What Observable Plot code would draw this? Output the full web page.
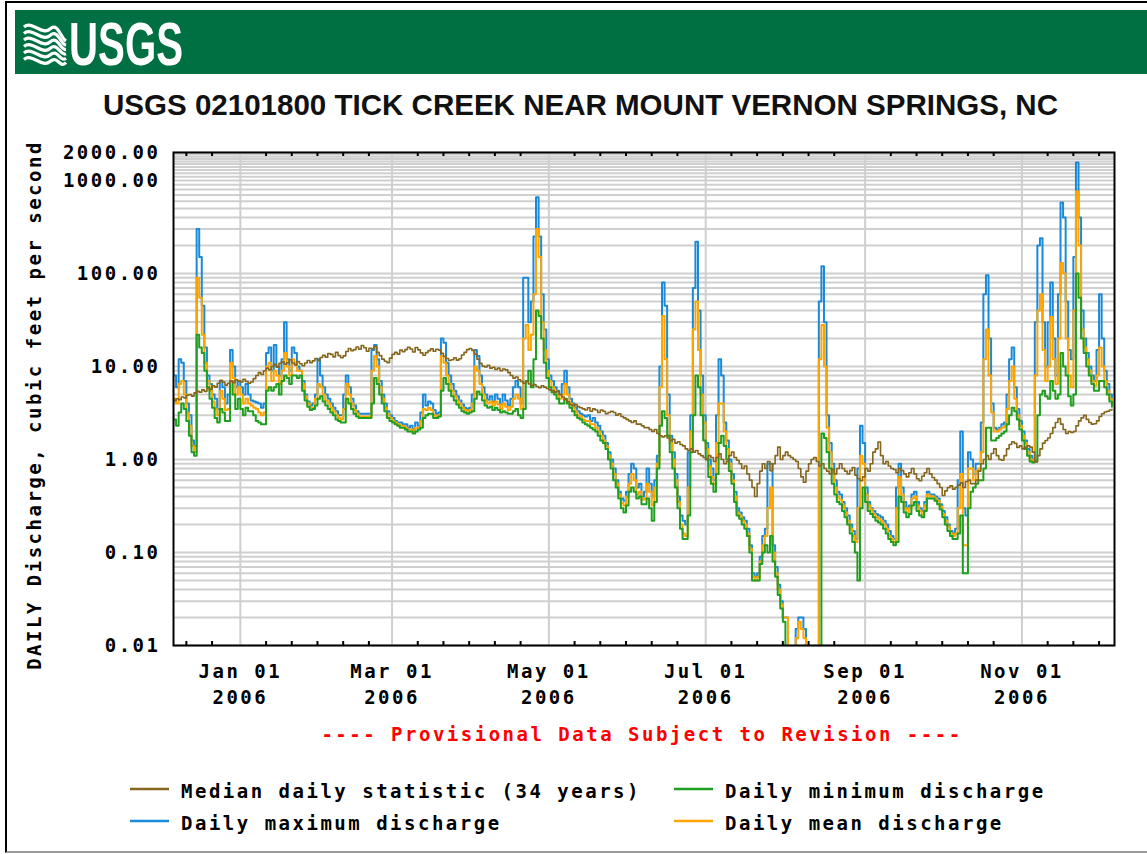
<!DOCTYPE html>
<html><head><meta charset="utf-8">
<script src="https://cdn.jsdelivr.net/npm/d3@7"></script>
<script src="https://cdn.jsdelivr.net/npm/@observablehq/plot@0.6"></script>
<style>
html,body{margin:0;padding:0;background:#fff;}
body{width:1147px;height:854px;position:relative;overflow:hidden;}
#frame{position:absolute;left:5px;top:1px;width:1160px;height:848px;border-left:2px solid #000;border-top:2px solid #000;border-bottom:2px solid #999;}
#chart{position:absolute;left:0;top:130px;width:1147px;}
#deco{position:absolute;left:0;top:0;z-index:2;}
.mono, #chart svg text{font-family:"DejaVu Sans Mono",monospace;font-weight:bold;font-size:19px;letter-spacing:2.5px;fill:#000;}
</style></head>
<body>
<div id="frame"></div>
<div id="chart"></div>
<svg id="deco" width="1147" height="854"></svg>
<script>
// ---------------- DATA ----------------
const stationTitle = "USGS 02101800 TICK CREEK NEAR MOUNT VERNON SPRINGS, NC";
const yAxisTitle = "DAILY Discharge, cubic feet per second";
const provisionalNote = "---- Provisional Data Subject to Revision ----";
const startDay = "2005-12-06";
const endDay = "2006-12-07";
const yTickValues = [0.01, 0.1, 1, 10, 100, 1000, 2000];
const monthTicks = ["2006-01-01", "2006-03-01", "2006-05-01", "2006-07-01", "2006-09-01", "2006-11-01"];
const seriesNames = ["Median daily statistic (34 years)", "Daily minimum discharge", "Daily maximum discharge", "Daily mean discharge"];
const seriesColors = ["#86661c", "#1f9e1f", "#1a8ad8", "#ffa500"];

// daily values from 2005-12-06 (0 = no flow)
const maxCfs = [
 8, 6, 12, 11, 7, 4, 3, 1.6, 1.4, 300,
 150, 45, 16, 8, 6.5, 5, 4.5, 3.5, 7, 6,
 4, 5, 15, 10, 6, 7, 6, 5, 6.5, 5,
 4.3, 4.2, 4.1, 4, 3.6, 4, 14, 16, 9, 17,
 10, 8, 12, 30, 12, 9, 16, 14, 10, 9,
 7, 5, 4.2, 3.8, 4, 5, 12, 8, 6, 5,
 4.5, 4, 3.6, 3.3, 3, 3, 5, 8, 6, 4.5,
 3.8, 3.3, 3.1, 3.1, 3.1, 3.1, 3.1, 15, 17, 12,
 7, 5, 4, 3.3, 3, 2.8, 2.6, 2.5, 2.5, 2.4,
 2.4, 2.2, 2.3, 2.1, 2.5, 2.3, 3.2, 5, 3.8, 4.2,
 4, 3.4, 3.1, 3.2, 20, 18, 11, 8, 6.5, 5.5,
 4.8, 4.3, 3.9, 3.6, 3.5, 3.6, 5, 15, 13, 8,
 6, 5, 4.4, 4.8, 4.2, 5, 4.5, 3.9, 5, 4.3,
 3.8, 4.5, 6, 7, 6, 4, 90, 90, 30, 50,
 250, 660, 250, 60, 25, 12, 8, 7, 6, 5.5,
 5, 6.5, 9, 6, 4.5, 4, 3.6, 3.3, 3.1, 3,
 2.9, 3, 2.6, 2.8, 2.5, 2.3, 2, 1.8, 1.5, 1.2,
 1, 0.8, 0.6, 0.45, 0.38, 0.36, 0.45, 0.7, 0.9, 0.8,
 0.5, 0.55, 0.4, 0.45, 0.8, 0.55, 0.4, 0.6, 1.1, 10,
 80, 45, 5, 1.8, 1.2, 0.7, 0.4, 0.25, 0.22, 0.2,
 1.2, 3, 70, 220, 40, 8, 3, 1.5, 1, 0.8,
 0.6, 3, 12, 8, 2.5, 1.6, 1, 0.7, 0.45, 0.3,
 0.27, 0.24, 0.22, 0.18, 0.12, 0.06, 0.055, 0.06, 0.09, 0.15,
 0.18, 0.9, 0.9, 0.12, 0.07, 0.045, 0.03, 0.02, 0.02, 0,
 0, 0, 0.015, 0.02, 0.02, 0.015, 0, 0, 0, 0,
 0, 50, 120, 30, 3, 1.5, 0.9, 0.6, 0.45, 0.42,
 0.35, 0.3, 0.25, 0.2, 0.17, 0.14, 0.8, 2.3, 1.5, 0.5,
 0.35, 0.3, 0.28, 0.26, 0.25, 0.24, 0.22, 0.2, 0.17, 0.15,
 0.14, 0.5, 0.9, 0.5, 0.35, 0.3, 0.32, 0.42, 0.45, 0.35,
 0.3, 0.28, 0.35, 0.45, 0.42, 0.42, 0.4, 0.38, 0.33, 0.28,
 0.24, 0.2, 0.17, 0.16, 0.18, 0.6, 2, 0.3, 0.25, 1.2,
 1, 0.7, 0.9, 0.9, 2.5, 60, 96, 20, 4, 2.2,
 2.1, 2.2, 2.4, 2.5, 5, 12, 16, 6, 3.5, 2.6,
 2, 1.6, 1.3, 1.1, 1, 30, 200, 240, 30, 10,
 30, 80, 20, 8, 60, 580, 400, 50, 15, 12,
 150, 1560, 400, 40, 20, 14, 10, 8, 7, 15,
 60, 20, 9, 6.5, 5, 4.2];

const meanCfs = [
 4.5, 4, 6.5, 7, 5, 3.2, 2.3, 1.4, 1.2, 90,
 55, 22, 11, 7, 5.5, 4.2, 3.5, 3, 5.5, 4.5,
 3.4, 3.5, 11, 7.5, 5, 6, 5, 4, 4.5, 4,
 3.8, 3.6, 3.5, 3.2, 3, 3.2, 10, 11, 7, 9,
 8, 6.5, 9, 14, 10, 8, 12, 11, 9, 9,
 6.5, 4.8, 4, 3.6, 3.6, 4.5, 6.5, 6, 5, 4.3,
 4, 3.6, 3.3, 3, 2.8, 2.7, 3.5, 6.5, 5, 4,
 3.4, 3.1, 2.9, 2.9, 2.9, 2.9, 2.9, 9, 13, 10,
 6, 4.5, 3.6, 3.1, 2.8, 2.6, 2.5, 2.4, 2.3, 2.3,
 2.2, 2.1, 2.1, 2, 2.2, 2.2, 2.6, 3.5, 3.4, 3.6,
 3.4, 3, 2.9, 3, 13, 11, 8, 6.5, 5.5, 4.8,
 4.3, 4, 3.6, 3.4, 3.3, 3.4, 4, 10, 9, 6.5,
 5, 4.3, 4, 4.2, 3.8, 4.2, 3.9, 3.5, 4, 3.7,
 3.4, 3.7, 4.5, 5, 4.5, 3.5, 20, 28, 15, 22,
 60, 300, 150, 30, 15, 9, 7, 6, 5.5, 5,
 4.5, 5, 6.5, 5, 4, 3.6, 3.3, 3, 2.9, 2.7,
 2.6, 2.6, 2.4, 2.4, 2.2, 2, 1.8, 1.6, 1.4, 1.1,
 0.9, 0.7, 0.55, 0.42, 0.34, 0.32, 0.4, 0.55, 0.7, 0.6,
 0.42, 0.45, 0.37, 0.38, 0.55, 0.45, 0.32, 0.5, 0.9, 6,
 35, 12, 3, 1.5, 1, 0.6, 0.35, 0.2, 0.16, 0.15,
 0.5, 2, 25, 50, 15, 5, 2.5, 1.3, 0.85, 0.65,
 0.55, 1.5, 4, 4, 2, 1.3, 0.9, 0.6, 0.4, 0.27,
 0.25, 0.22, 0.2, 0.16, 0.11, 0.055, 0.05, 0.055, 0.08, 0.12,
 0.15, 0.3, 0.5, 0.1, 0.06, 0.04, 0.028, 0.02, 0.02, 0,
 0, 0, 0.012, 0.018, 0.015, 0.012, 0, 0, 0, 0,
 0, 12, 28, 10, 2.2, 1.2, 0.7, 0.5, 0.4, 0.37,
 0.32, 0.27, 0.22, 0.18, 0.15, 0.13, 0.3, 1.1, 0.9, 0.42,
 0.32, 0.29, 0.26, 0.24, 0.23, 0.22, 0.2, 0.18, 0.15, 0.14,
 0.13, 0.3, 0.65, 0.42, 0.3, 0.27, 0.3, 0.38, 0.4, 0.32,
 0.28, 0.26, 0.32, 0.42, 0.4, 0.4, 0.38, 0.36, 0.31, 0.26,
 0.22, 0.19, 0.16, 0.15, 0.16, 0.3, 0.7, 0.12, 0.12, 0.8,
 0.8, 0.6, 0.75, 0.8, 1.2, 12, 25, 8, 3.2, 2,
 2, 2.1, 2.2, 2.3, 3.5, 7, 10, 4.5, 3, 2.3,
 1.8, 1.5, 1.2, 1, 0.95, 8, 40, 60, 15, 7,
 10, 34, 12, 6.5, 20, 130, 100, 20, 8, 6,
 40, 760, 200, 25, 16, 12, 9, 7, 6.2, 8,
 16, 10, 7, 5.5, 4.5, 3.9];

const minCfs = [
 2.7, 2.3, 3.2, 4, 3.5, 2.6, 1.8, 1.2, 1.1, 22,
 16, 14, 9, 6, 4.5, 3.6, 2.8, 2.5, 3.5, 3.2,
 2.6, 2.6, 7, 5, 3.5, 4.5, 3.5, 3, 3.6, 3.3,
 3.3, 3, 2.6, 2.5, 2.4, 2.4, 5.5, 6, 5.5, 6,
 6.5, 5, 7, 8, 7.5, 6.5, 8, 8, 7.5, 8,
 5.5, 4.3, 3.7, 3.4, 3.5, 3.8, 4.5, 4.8, 4.2, 3.8,
 3.5, 3.2, 3, 2.7, 2.6, 2.5, 2.5, 4.5, 4, 3.5,
 3.1, 2.9, 2.8, 2.8, 2.8, 2.8, 2.8, 4, 7.5, 6.5,
 5, 4, 3.3, 2.8, 2.6, 2.5, 2.4, 2.3, 2.2, 2.2,
 2.1, 2, 2, 1.9, 2, 2.1, 2.2, 2.8, 3, 3.1,
 3.1, 2.8, 2.8, 2.9, 5.5, 7.5, 6.5, 5.5, 4.8, 4.3,
 3.9, 3.6, 3.3, 3.2, 3.1, 3.2, 3.3, 4.5, 5.4, 5,
 4.3, 3.8, 3.6, 3.7, 3.4, 3.6, 3.4, 3.2, 3.3, 3.2,
 3.1, 3.1, 3.3, 3.5, 3, 2.8, 3.5, 7, 9, 6,
 12, 40, 35, 20, 11, 7.5, 6, 5.3, 5, 4.5,
 4, 4, 4.5, 4, 3.6, 3.3, 3, 2.8, 2.7, 2.5,
 2.4, 2.3, 2.2, 2.1, 2, 1.8, 1.6, 1.5, 1.3, 1,
 0.8, 0.6, 0.5, 0.38, 0.3, 0.27, 0.32, 0.45, 0.5, 0.45,
 0.38, 0.4, 0.33, 0.33, 0.38, 0.3, 0.22, 0.35, 0.8, 2.3,
 3.3, 2.8, 1.8, 1.2, 0.8, 0.5, 0.3, 0.18, 0.14, 0.14,
 0.25, 1.2, 3, 8, 6, 3, 1.6, 1, 0.65, 0.55,
 0.45, 0.7, 1.5, 1.8, 1.4, 1, 0.75, 0.55, 0.35, 0.25,
 0.23, 0.2, 0.18, 0.15, 0.1, 0.05, 0.05, 0.05, 0.075, 0.1,
 0.12, 0.1, 0.15, 0.08, 0.055, 0.035, 0.025, 0.018, 0, 0,
 0, 0, 0, 0, 0, 0, 0, 0, 0, 0,
 0, 0, 1.9, 1.7, 1.2, 0.8, 0.55, 0.42, 0.35, 0.33,
 0.28, 0.24, 0.2, 0.16, 0.13, 0.1, 0.05, 0.3, 0.5, 0.35,
 0.28, 0.26, 0.24, 0.22, 0.21, 0.2, 0.18, 0.16, 0.14, 0.13,
 0.12, 0.13, 0.4, 0.35, 0.27, 0.24, 0.26, 0.32, 0.35, 0.28,
 0.25, 0.24, 0.28, 0.38, 0.38, 0.38, 0.36, 0.33, 0.29, 0.24,
 0.2, 0.17, 0.15, 0.14, 0.14, 0.16, 0.25, 0.06, 0.06, 0.3,
 0.45, 0.5, 0.55, 0.6, 0.6, 0.8, 2.2, 2.2, 1.6, 1.6,
 1.7, 1.8, 1.9, 2, 2.4, 3, 3.6, 3.3, 2.7, 2.1,
 1.6, 1.3, 1.1, 0.95, 0.93, 0.95, 3, 5, 5.5, 4.8,
 4.5, 7, 5.5, 4.5, 5, 14, 10, 8, 4.8, 3.8,
 5, 100, 55, 20, 14, 10, 8, 6.5, 5.5, 5.5,
 7, 7, 6, 5, 4.2, 3.7];

const medianCfs = [
 4.3, 4.5, 4.4, 4.7, 4.6, 4.9, 5.0, 4.8, 5.2, 5.4,
 5.3, 5.6, 5.4, 5.8, 5.7, 6.2, 6.0, 6.6, 7.1, 6.8,
 6.3, 6.6, 7.0, 6.7, 7.2, 7.0, 6.8, 7.3, 6.9, 6.6,
 6.8, 7.4, 8.0, 8.6, 8.2, 9.0, 9.6, 9.2, 10.0, 10.5,
 9.8, 10.8, 11.2, 10.6, 11.0, 11.8, 10.9, 10.4, 11.3, 10.7,
 10.2, 10.9, 11.6, 11.0, 11.5, 12.2, 11.6, 12.5, 13.2, 12.6,
 13.8, 13.5, 12.7, 14.2, 13.1, 12.4, 13.0, 14.5, 15.6, 14.8,
 15.2, 16.2, 15.3, 16.8, 15.9, 14.6, 15.7, 15.5, 16.4, 14.2,
 13.1, 12.0, 11.4, 11.0, 12.3, 13.5, 14.2, 13.6, 15.0, 14.4,
 15.2, 16.1, 15.4, 14.3, 16.0, 15.1, 14.0, 13.2, 14.1, 14.8,
 15.5, 14.6, 15.3, 15.0, 13.9, 12.8, 12.2, 11.6, 11.8, 12.4,
 11.7, 12.1, 13.3, 14.2, 15.2, 15.6, 14.9, 13.6, 12.0, 10.8,
 10.1, 9.9, 10.3, 9.6, 9.8, 9.3, 9.6, 9.0, 9.4, 9.2,
 8.6, 8.0, 7.5, 7.7, 7.2, 6.9, 6.6, 6.9, 6.5, 6.2,
 6.4, 6.1, 5.9, 6.2, 6.0, 5.8, 5.6, 5.5, 5.3, 5.4,
 5.0, 4.7, 4.4, 4.2, 3.9, 3.8, 3.9, 3.7, 3.6, 3.5,
 3.4, 3.6, 3.3, 3.5, 3.4, 3.2, 3.4, 3.3, 3.1, 3.2,
 3.3, 3.2, 3.0, 3.1, 2.9, 2.8, 2.7, 2.6, 2.5, 2.6,
 2.4, 2.4, 2.3, 2.2, 2.2, 2.1, 2.0, 2.1, 1.9, 1.8,
 1.75, 1.8, 1.7, 1.6, 1.65, 1.5, 1.55, 1.45, 1.4, 1.3,
 1.25, 1.3, 1.2, 1.25, 1.15, 1.1, 1.05, 1.0, 1.1, 1.05,
 0.95, 1.05, 1.15, 1.0, 0.9, 0.95, 1.1, 1.2, 1.05, 0.98,
 0.9, 0.8, 0.85, 0.7, 0.6, 0.5, 0.4, 0.55, 0.75, 0.9,
 0.8, 0.95, 0.76, 0.9, 1.1, 1.36, 1.0, 1.1, 1.2, 1.1,
 1.05, 1.0, 0.95, 0.8, 0.65, 0.57, 0.75, 0.9, 1.0, 1.05,
 0.95, 0.85, 0.9, 0.8, 0.75, 0.7, 0.78, 0.7, 0.8, 0.9,
 0.8, 0.75, 0.7, 0.76, 0.82, 0.68, 0.62, 0.59, 0.65, 0.8,
 0.75, 0.9, 1.2, 1.3, 1.54, 1.1, 0.9, 0.95, 0.85, 0.8,
 0.78, 0.72, 0.8, 0.76, 0.7, 0.65, 0.72, 0.8, 0.7, 0.62,
 0.59, 0.66, 0.72, 0.8, 0.7, 0.64, 0.6, 0.55, 0.5, 0.41,
 0.46, 0.5, 0.52, 0.48, 0.5, 0.53, 0.56, 0.5, 0.58, 0.6,
 0.55, 0.55, 0.6, 0.75, 0.9, 1.0, 1.1, 1.0, 1.16, 1.3,
 1.1, 1.0, 0.98, 1.1, 1.3, 1.45, 1.55, 1.49, 1.35, 1.4,
 1.3, 1.35, 1.4, 1.36, 1.2, 0.94, 1.1, 1.3, 1.5, 1.6,
 1.7, 1.9, 2.2, 2.5, 2.75, 2.4, 2.1, 1.9, 2.0, 1.95,
 2.0, 2.3, 2.6, 2.8, 2.98, 2.7, 2.5, 2.4, 2.42, 2.6,
 2.9, 3.1, 3.24, 3.3, 3.4, 3.46];

// ---------------- BUILD ----------------
const parse = s => new Date(s + "T00:00:00Z");
const start = parse(startDay), end = parse(endDay);
const rows = meanCfs.map((v, i) => ({
  date: d3.utcDay.offset(start, i),
  max: maxCfs[i], mean: v, min: minCfs[i], median: medianCfs[i]
}));
const floorV = v => Math.max(v, 0.001); // zero flow drawn below the axis floor

const gridY = [];
for (const b of [0.01, 0.1, 1, 10, 100]) for (let k = 1; k <= 9; k++) gridY.push(+(k * b).toPrecision(3));
for (let k = 10; k <= 20; k++) gridY.push(k * 100);
const gridX = monthTicks.map(parse);
const minorX = [];
for (const base of [d3.utcMonth.offset(gridX[0], -2), ...gridX]) {
  for (let k = 1; k <= 5; k++) {
    const d = d3.utcDay.offset(base, 10 * k);
    if (d > start && d < end) minorX.push(d);
  }
}

const W = 1147, H = 590, mT = 22, mB = 75;
const innerH = H - mT - mB;
const lineOpts = (key, color) => ({x: "date", y: d => floorV(d[key]), curve: "step-after", stroke: color, strokeWidth: 2, clip: true});

const chart = Plot.plot({
  width: W, height: H,
  marginLeft: 173, marginRight: 33, marginTop: mT, marginBottom: mB,
  style: {background: "transparent", overflow: "visible"},
  x: {type: "utc", domain: [start, end], axis: null, label: null},
  y: {type: "log", domain: [0.01, 2000], axis: null, label: null},
  marks: [
    Plot.ruleY(gridY, {stroke: "#cfcfcf", strokeWidth: 2}),
    Plot.ruleX(gridX, {stroke: "#cfcfcf", strokeWidth: 2}),
    Plot.line(rows, lineOpts("max", seriesColors[2])),
    Plot.line(rows, lineOpts("mean", seriesColors[3])),
    Plot.line(rows, lineOpts("min", seriesColors[1])),
    Plot.line(rows, {x: "date", y: d => d.median, curve: "step-after", stroke: seriesColors[0], strokeWidth: 1.6, clip: true}),
    Plot.tickX(minorX, {x: d => d, stroke: "#000", strokeWidth: 2, insetBottom: innerH - 4}),
    Plot.tickX(minorX, {x: d => d, stroke: "#000", strokeWidth: 2, insetTop: innerH - 4}),
    Plot.frame({stroke: "#000", strokeWidth: 2}),
    Plot.axisY(yTickValues, {tickSize: 0, tickPadding: 13, label: null, tickFormat: d => d.toFixed(2)}),
    Plot.text(gridX, {x: d => d, frameAnchor: "bottom", dy: 26, text: d => d3.utcFormat("%b %d")(d), lineAnchor: "middle"}),
    Plot.text(gridX, {x: d => d, frameAnchor: "bottom", dy: 52, text: d => d3.utcFormat("%Y")(d), lineAnchor: "middle"})
  ]
});
document.getElementById("chart").appendChild(chart);

// ---------------- DECORATION ----------------
const deco = d3.select("#deco");
deco.append("rect").attr("x", 15).attr("y", 10).attr("width", 1200).attr("height", 64).attr("fill", "#006f41");
const logo = deco.append("g");
for (let i = 0; i < 6; i++) {
  const y0 = 27 + i * 6.5;
  logo.append("path")
    .attr("d", `M24,${y0} C32,${y0 - 7} 42,${y0 + 9} 50,${y0 + 2} S60,${y0 + 10} 66,${y0 + 14 - i * 2.2}`)
    .attr("fill", "none").attr("stroke", "#fff").attr("stroke-width", 3.2);
}
deco.append("text").attr("x", 69).attr("y", 65).text("USGS")
  .attr("font-family", "'Liberation Sans Narrow','Liberation Sans',Arial,sans-serif")
  .attr("font-weight", "bold").attr("font-size", 62).attr("fill", "#fff")
  .attr("textLength", 114).attr("lengthAdjust", "spacingAndGlyphs");
deco.append("text").attr("x", 580.5).attr("y", 115).attr("text-anchor", "middle").text(stationTitle)
  .attr("font-family", "'Liberation Sans Narrow','Liberation Sans',Arial,sans-serif")
  .attr("font-weight", "bold").attr("font-size", 30).attr("fill", "#111")
  .attr("textLength", 955).attr("lengthAdjust", "spacingAndGlyphs");
deco.append("text").attr("class", "mono").attr("transform", "translate(41,405) rotate(-90)")
  .attr("text-anchor", "middle").text(yAxisTitle);
deco.append("text").attr("class", "mono").attr("x", 642).attr("y", 741).attr("text-anchor", "middle")
  .style("fill", "#ff0000").text(provisionalNote);
const legendPos = [[130, 789], [674, 789], [130, 821], [674, 821]];
seriesNames.forEach((name, i) => {
  const [lx, ly] = legendPos[i];
  deco.append("line").attr("x1", lx).attr("x2", lx + 39).attr("y1", ly).attr("y2", ly)
    .attr("stroke", seriesColors[i]).attr("stroke-width", 2.5);
  deco.append("text").attr("class", "mono").attr("x", lx + 51).attr("y", ly + 8.5).text(name);
});
</script>
</body></html>
